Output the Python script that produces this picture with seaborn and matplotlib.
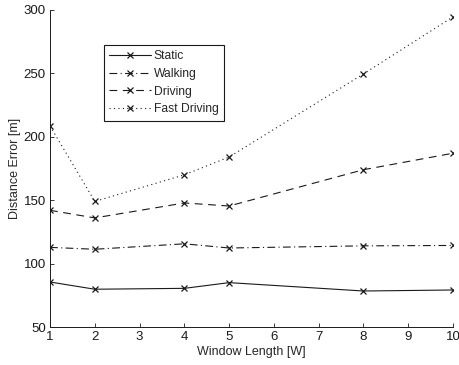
import matplotlib
matplotlib.use("Agg")
import matplotlib.pyplot as plt
import seaborn as sns
import pandas as pd

window = [1, 2, 4, 5, 8, 10]
static = [85.5, 79.8, 80.5, 85.0, 78.4, 79.2]
walking = [112.8, 111.3, 115.6, 112.3, 114.0, 114.3]
driving = [142.0, 136.0, 147.8, 145.4, 174.0, 187.0]
fast_driving = [208.5, 149.0, 170.0, 184.0, 249.5, 294.5]
series_names = ["Static", "Walking", "Driving", "Fast Driving"]
series_values = [static, walking, driving, fast_driving]
x_ticks = list(range(1, 11))
y_ticks = [50, 100, 150, 200, 250, 300]

sns.set_theme(style="white")
plt.rcParams['font.family'] = ['Liberation Sans', 'DejaVu Sans']

fig = plt.figure(figsize=(4.59, 3.65), dpi=100)
ax = fig.add_axes([0.109, 0.104, 0.878, 0.869])

styles = ['-', (0, (7, 3, 1, 3)), (0, (7, 5)), (0, (1, 3))]
for name, vals, ls in zip(series_names, series_values, styles):
    df = pd.DataFrame({"x": window, "y": vals})
    sns.lineplot(data=df, x="x", y="y", ax=ax, color='k', linestyle=ls,
                 marker='x', markersize=5, markeredgewidth=0.9,
                 markeredgecolor='k', markerfacecolor='k',
                 linewidth=0.8, label=name)

ax.set_xlim(1, 10)
ax.set_ylim(50, 300)
ax.set_xticks(x_ticks)
ax.set_yticks(y_ticks)
ax.set_xlabel("Window Length [W]", fontsize=9, labelpad=2)
ax.set_ylabel("Distance Error [m]", fontsize=9, labelpad=2)
ax.tick_params(direction='in', length=3, width=0.6, labelsize=9.5,
               bottom=True, left=True, colors='k', pad=3)
for s in ['top', 'right']:
    ax.spines[s].set_visible(False)
for s in ['left', 'bottom']:
    ax.spines[s].set_color('k')
    ax.spines[s].set_linewidth(0.7)

leg = ax.legend(loc='upper left', bbox_to_anchor=(0.134, 0.89),
                borderaxespad=0, fontsize=8.7, frameon=True, fancybox=False,
                edgecolor='k', framealpha=1, handlelength=3.4,
                labelspacing=0.47, borderpad=0.45, handletextpad=0.25)
leg.get_frame().set_linewidth(0.8)

fig.savefig("out.png", dpi=100)
